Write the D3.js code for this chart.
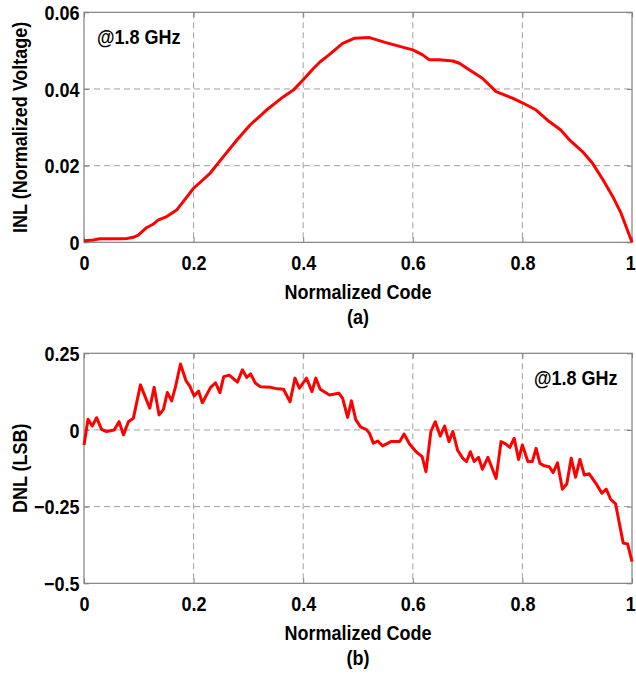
<!DOCTYPE html>
<html><head><meta charset="utf-8">
<script src="https://cdn.jsdelivr.net/npm/d3@7"></script>
<style>
html,body{margin:0;padding:0;background:#fff;}
svg{display:block;}
text{font-family:"Liberation Sans",Arial,sans-serif;font-weight:bold;font-size:20px;fill:#000;}
</style></head><body>
<script>
// INL (top) data
const inlX = [0,0.017,0.029,0.047,0.066,0.078,0.090,0.099,0.114,0.126,0.135,0.151,0.169,0.181,0.2,0.230,0.254,0.279,0.303,0.333,0.364,0.382,0.4,0.419,0.431,0.447,0.472,0.493,0.521,0.551,0.576,0.6,0.618,0.630,0.648,0.673,0.685,0.703,0.727,0.752,0.782,0.800,0.825,0.849,0.870,0.886,0.910,0.928,0.947,0.965,0.980,1.0];
const inlY = [0.0004,0.0006,0.0009,0.0009,0.0009,0.001,0.0013,0.0019,0.0038,0.0047,0.0058,0.0067,0.0084,0.0106,0.0141,0.018,0.0223,0.0267,0.0306,0.0345,0.038,0.0397,0.0424,0.0454,0.0471,0.0489,0.0519,0.0532,0.0534,0.0521,0.0511,0.0502,0.0489,0.0476,0.0476,0.0473,0.0467,0.045,0.0428,0.0393,0.0376,0.0364,0.0345,0.0315,0.0293,0.0267,0.0236,0.0206,0.0163,0.0119,0.0076,0.0];
// DNL (bottom) data
const dnlX = [0,0.0073,0.015,0.023,0.032,0.041,0.055,0.064,0.072,0.081,0.090,0.103,0.120,0.128,0.137,0.145,0.152,0.160,0.167,0.176,0.186,0.193,0.201,0.209,0.216,0.231,0.240,0.248,0.255,0.265,0.280,0.289,0.297,0.304,0.313,0.322,0.341,0.353,0.364,0.376,0.385,0.393,0.406,0.416,0.423,0.431,0.448,0.465,0.472,0.481,0.488,0.496,0.505,0.515,0.521,0.528,0.536,0.545,0.560,0.576,0.584,0.594,0.606,0.617,0.624,0.633,0.641,0.650,0.658,0.666,0.673,0.682,0.691,0.698,0.705,0.712,0.720,0.727,0.737,0.752,0.761,0.770,0.777,0.785,0.793,0.800,0.810,0.818,0.825,0.832,0.840,0.849,0.856,0.864,0.873,0.881,0.889,0.897,0.905,0.913,0.922,0.934,0.945,0.953,0.961,0.970,0.984,0.992,1.0];
const dnlY = [-0.049,0.035,0.013,0.040,0.002,-0.005,0.0,0.027,-0.016,0.027,0.038,0.147,0.071,0.139,0.049,0.067,0.122,0.095,0.141,0.215,0.161,0.143,0.111,0.127,0.089,0.139,0.154,0.122,0.174,0.179,0.156,0.196,0.171,0.183,0.152,0.141,0.139,0.134,0.133,0.092,0.169,0.136,0.169,0.125,0.169,0.133,0.114,0.12,0.103,0.041,0.095,0.033,0.009,0.002,-0.011,-0.043,-0.036,-0.052,-0.038,-0.038,-0.013,-0.046,-0.071,-0.087,-0.136,-0.005,0.027,-0.020,0.013,-0.038,-0.005,-0.067,-0.092,-0.103,-0.071,-0.103,-0.089,-0.128,-0.089,-0.158,-0.038,-0.046,-0.057,-0.027,-0.096,-0.049,-0.103,-0.103,-0.060,-0.109,-0.117,-0.120,-0.139,-0.107,-0.193,-0.176,-0.092,-0.154,-0.096,-0.147,-0.143,-0.174,-0.206,-0.193,-0.226,-0.241,-0.369,-0.372,-0.429];

const xTicks = [0,0.2,0.4,0.6,0.8,1];
const xTickLabels = ["0","0.2","0.4","0.6","0.8","1"];
const inlTicks = [0,0.02,0.04,0.06];
const inlTickLabels = ["0","0.02","0.04","0.06"];
const dnlTicks = [-0.5,-0.25,0,0.25];
const dnlTickLabels = ["\u22120.5","\u22120.25","0","0.25"];

const W = 636, H = 677;
const svg = d3.select("body").append("svg").attr("width", W).attr("height", H);
const SX = 0.9;

function panel(cfg) {
  const g = svg.append("g");
  const x = d3.scaleLinear().domain([0,1]).range([84,632]);
  const y = d3.scaleLinear().domain(cfg.yDomain).range([cfg.bottom, cfg.top]);
  // grid
  g.append("g").selectAll("line").data(xTicks.slice(1,-1)).join("line")
    .attr("x1", d=>x(d)).attr("x2", d=>x(d)).attr("y1", cfg.top).attr("y2", cfg.bottom)
    .attr("stroke","#a0a0a0").attr("stroke-width",1).attr("stroke-dasharray","6,4");
  g.append("g").selectAll("line").data(cfg.yTicks.slice(1,-1)).join("line")
    .attr("x1", 84).attr("x2", 632).attr("y1", d=>y(d)).attr("y2", d=>y(d))
    .attr("stroke","#a0a0a0").attr("stroke-width",1).attr("stroke-dasharray","6,4");
  // axes
  const xa = g.append("g").attr("transform",`translate(0,${cfg.bottom})`)
    .call(d3.axisBottom(x).tickValues(xTicks).tickFormat((d,i)=>xTickLabels[i]).tickSize(-5).tickPadding(14));
  const ya = g.append("g").attr("transform","translate(84,0)")
    .call(d3.axisLeft(y).tickValues(cfg.yTicks).tickFormat((d,i)=>cfg.yTickLabels[i]).tickSize(-5).tickPadding(5));
  const ya2 = g.append("g").attr("transform","translate(632,0)")
    .call(d3.axisRight(y).tickValues(cfg.yTicks).tickFormat("").tickSize(-5));
  const xa2 = g.append("g").attr("transform",`translate(0,${cfg.top})`)
    .call(d3.axisTop(x).tickValues(xTicks).tickFormat("").tickSize(-5));
  [xa,ya,ya2,xa2].forEach(a=>{
    a.select(".domain").remove();
    a.selectAll(".tick line").attr("stroke","#808080");
    a.selectAll("text").style("font-family",'"Liberation Sans",Arial,sans-serif')
      .style("font-weight","bold").style("font-size","20px").attr("fill","#000");
  });
  xa.selectAll(".tick text").attr("transform",`scale(${SX},1)`).attr("dy","0.71em")
    .attr("dx", d => d === 1 ? "-2" : "0");
  ya.selectAll(".tick text").attr("transform",`scale(${SX},1)`).attr("dy","0.36em");
  // frame
  g.append("rect").attr("x",84).attr("y",cfg.top).attr("width",548).attr("height",cfg.bottom-cfg.top)
    .attr("fill","none").attr("stroke","#808080").attr("stroke-width",1.2);
  // line
  const line = d3.line().x(d=>x(d[0])).y(d=>y(d[1]));
  g.append("path").datum(cfg.xs.map((v,i)=>[v,cfg.ys[i]]))
    .attr("d", line).attr("fill","none").attr("stroke","#ff0000").attr("stroke-width",3)
    .attr("stroke-linejoin","round");
  // labels
  const lab = (tx,ty,rot,txt,anchor)=>{
    g.append("g").attr("transform",`translate(${tx},${ty}) rotate(${rot})`)
      .append("text").attr("transform",`scale(${SX},1)`).attr("text-anchor",anchor||"middle").text(txt);
  };
  lab(358, cfg.bottom+57, 0, "Normalized Code");
  lab(358, cfg.bottom+82, 0, cfg.sub);
  lab(27, (cfg.top+cfg.bottom)/2, -90, cfg.yTitle);
  lab(cfg.annX, cfg.annY, 0, "@1.8 GHz", "start");
}

panel({top:12.3, bottom:242.3, yDomain:[0,0.06], yTicks:inlTicks, yTickLabels:inlTickLabels,
  xs:inlX, ys:inlY, sub:"(a)", yTitle:"INL (Normalized Voltage)", annX:97, annY:43.5});
panel({top:353.3, bottom:583.3, yDomain:[-0.5,0.25], yTicks:dnlTicks, yTickLabels:dnlTickLabels,
  xs:dnlX, ys:dnlY, sub:"(b)", yTitle:"DNL (LSB)", annX:534, annY:385});
</script>
</body></html>
